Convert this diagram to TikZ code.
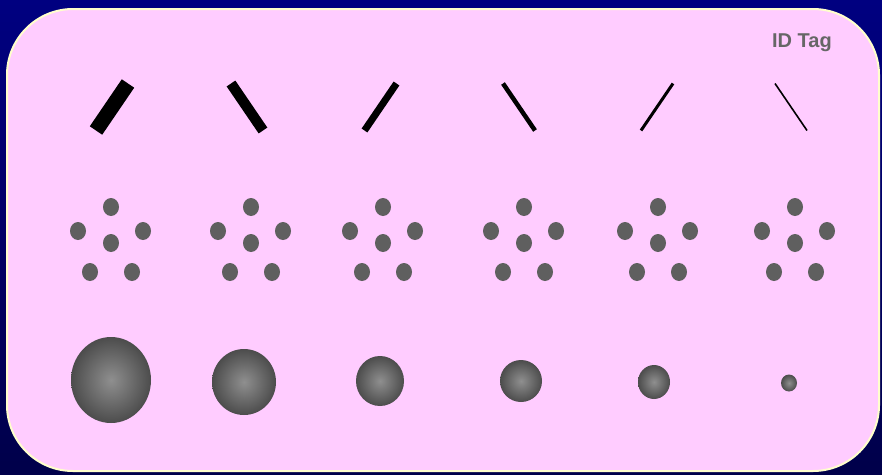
\documentclass[tikz,border=0pt]{standalone}
\usepackage{fontspec}
\setmainfont{Liberation Sans}
\usetikzlibrary{shapes.geometric}
\definecolor{navy}{RGB}{0,0,128}
\definecolor{deepnavy}{RGB}{0,0,74}
\definecolor{panelpink}{RGB}{255,204,255}
\definecolor{cream}{RGB}{255,255,204}
\definecolor{spotgray}{RGB}{95,95,95}
\definecolor{taggray}{RGB}{102,102,102}
\tikzset{
  spot/.style={ellipse,fill=spotgray,inner sep=0pt,minimum width=16pt,minimum height=18pt},
  blob/.style={ellipse,inner sep=0pt,inner color={rgb,255:red,143;green,143;blue,143},outer color={rgb,255:red,76;green,76;blue,76}},
  bar/.style={line cap=butt,black}
}
\begin{document}
\begin{tikzpicture}[x=1pt,y=-1pt]
\useasboundingbox (0,0) rectangle (882,474);
\shade[top color=navy,bottom color=deepnavy] (0,0) rectangle (882,474);
\draw[cream,line width=2pt,fill=panelpink,rounded corners=66pt] (7,9) rectangle (879,471);
\node[font=\bfseries\fontsize{20}{24}\selectfont,text=taggray,inner sep=0pt,anchor=base east] (tag) at (832,47) {ID Tag};
% bars
\foreach \cx/\s/\w in {112/1/15,247/-1/10.5,380.5/1/7,519/-1/4.5,657/1/3,791/-1/1.6}
  \draw[bar,line width=\w pt] (\cx-16*\s,130.5) -- (\cx+16*\s,83.5);
% spot patterns
\foreach \cx [count=\i] in {111,251,383,524,658,795} {
  \node[spot] (c\i) at (\cx,243) {};
  \node[spot] (t\i) at (\cx,207) {};
  \node[spot] (l\i) at (\cx-33,231) {};
  \node[spot] (r\i) at (\cx+32,231) {};
  \node[spot] (bl\i) at (\cx-21,272) {};
  \node[spot] (br\i) at (\cx+21,272) {};
}
% shaded blobs
\foreach \cx/\cy/\w/\h [count=\i] in {111/380/80/86,244/382/64/66,380/381/48/50,521/381/42/42,654/382/32/34,789/383/16/17}
  \node[blob,minimum width=\w pt,minimum height=\h pt] (b\i) at (\cx,\cy) {};
\end{tikzpicture}
\end{document}
